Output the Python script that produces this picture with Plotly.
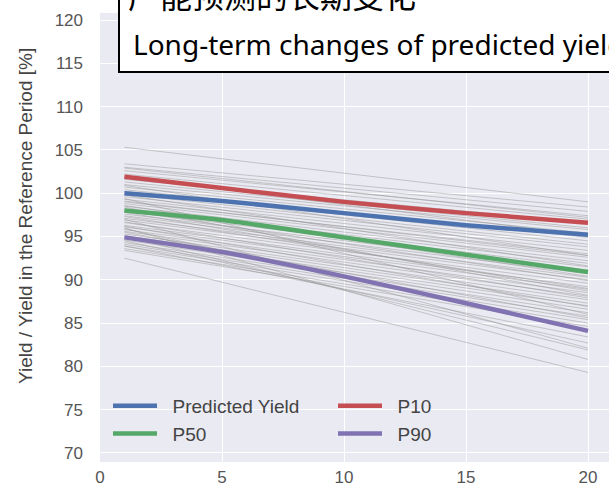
import plotly.graph_objects as go

# Years after the reference period
years_gray = [1, 20]
years = [1, 5, 10, 15, 20]

# Individual simulation runs: relative yield [%] at year 1 and year 20
gray_start = [105.3, 103.4, 103.0, 102.6, 102.2, 101.6, 101.3, 101.0, 100.7, 100.4,
              100.2, 99.9, 99.6, 99.3, 99.0, 98.8, 98.5, 98.2, 97.9, 97.6,
              97.4, 97.1, 96.9, 96.6, 96.3, 96.1, 95.8, 95.6, 95.3, 95.1,
              94.8, 94.6, 94.3, 94.1, 93.9, 93.6, 93.4, 93.9, 94.5, 95.0,
              96.0, 97.0, 98.4, 99.4, 100.9, 92.5,
              99.8, 99.1, 98.6, 98.0, 97.3, 96.7, 96.2, 95.5, 95.9, 97.8,
              101.9, 102.9]
gray_end = [99.0, 98.4, 97.9, 97.4, 97.0, 96.6, 96.0, 95.8, 95.4, 94.9,
            94.5, 94.1, 93.8, 93.4, 93.0, 92.6, 92.2, 91.9, 91.5, 91.1,
            90.7, 90.3, 90.0, 89.6, 89.2, 88.9, 88.5, 88.1, 87.7, 87.3,
            87.0, 86.6, 86.2, 85.8, 85.4, 85.0, 84.6, 83.4, 82.7, 81.9,
            80.8, 82.1, 88.2, 86.0, 92.8, 79.3,
            91.6, 92.8, 90.4, 89.9, 89.0, 87.9, 86.9, 85.6, 84.0, 88.7,
            95.1, 97.2]

# Summary curves [%]
predicted = [100.0, 99.1, 97.7, 96.3, 95.2]
p10 = [101.9, 100.6, 99.0, 97.7, 96.6]
p50 = [98.0, 96.9, 94.9, 92.9, 90.9]
p90 = [94.9, 93.2, 90.4, 87.3, 84.1]

y_ticks = [70, 75, 80, 85, 90, 95, 100, 105, 110, 115, 120]
x_ticks = [0, 5, 10, 15, 20]

fig = go.Figure()

for s, e in zip(gray_start, gray_end):
    fig.add_trace(go.Scatter(
        x=years_gray, y=[s, e], mode="lines",
        line=dict(color="rgba(150,150,150,0.55)", width=0.9),
        showlegend=False, hoverinfo="skip"))

summary = [
    ("Predicted Yield", predicted, "#4C72B0"),
    ("P10", p10, "#C44E52"),
    ("P50", p50, "#55A868"),
    ("P90", p90, "#8172B2"),
]
for name, vals, color in summary:
    fig.add_trace(go.Scatter(
        x=years, y=vals, mode="lines", name="\u00a0\u00a0" + name,
        line=dict(color=color, width=4.5, shape="spline", smoothing=0.6)))

W, H = 609, 492
L, R, T, B = 100, 0, 13, 30
pw, ph = W - L - R, H - T - B


def px(xp):
    return (xp - L) / pw


def py(yp):
    return 1 - (yp - T) / ph


font_main = "Liberation Sans, Arial, sans-serif"

fig.update_layout(
    width=W, height=H, autosize=False,
    margin=dict(l=L, r=R, t=T, b=B, pad=0),
    paper_bgcolor="white", plot_bgcolor="#EAEAF2",
    font=dict(family=font_main, color="#555555"),
    xaxis=dict(range=[0, 20.86], tickvals=x_ticks, showgrid=True,
               gridcolor="white", gridwidth=1.2, zeroline=False,
               showline=False, ticks="", ticklabelstandoff=3,
               tickfont=dict(size=17, color="#555555")),
    yaxis=dict(range=[68.96, 120.81], tickvals=y_ticks, showgrid=True,
               gridcolor="white", gridwidth=1.2, zeroline=False,
               showline=False, ticks="", ticklabelstandoff=16,
               tickfont=dict(size=17, color="#555555")),
    legend=dict(orientation="h", x=px(108), y=py(387), xanchor="left",
                yanchor="top", bgcolor="rgba(0,0,0,0)",
                entrywidth=166, entrywidthmode="pixels",
                font=dict(size=19, color="#444444"), itemwidth=44),
    showlegend=True,
)

# Y-axis title
fig.add_annotation(
    text="Yield / Yield in the Reference Period [%]",
    xref="paper", yref="paper", x=px(26), y=py(216),
    xanchor="center", yanchor="middle", textangle=-90, showarrow=False,
    font=dict(size=19, color="#444444", family=font_main))

# Caption box across the top
fig.add_shape(type="rect", xref="paper", yref="paper",
              x0=px(119), x1=px(640), y0=py(72), y1=py(-40),
              fillcolor="white", line=dict(color="black", width=2),
              layer="above")
fig.add_annotation(
    text="产能预测的长期变化", xref="paper", yref="paper",
    x=px(126), y=py(-6), xanchor="left", yanchor="middle", showarrow=False,
    font=dict(size=32, color="black", family="Noto Sans CJK SC"))
fig.add_annotation(
    text="Long-term changes of predicted yield", xref="paper", yref="paper",
    x=px(131), y=py(44), xanchor="left", yanchor="middle", showarrow=False,
    font=dict(size=28, color="black", family="Noto Sans"))

fig.write_html("out.html")
